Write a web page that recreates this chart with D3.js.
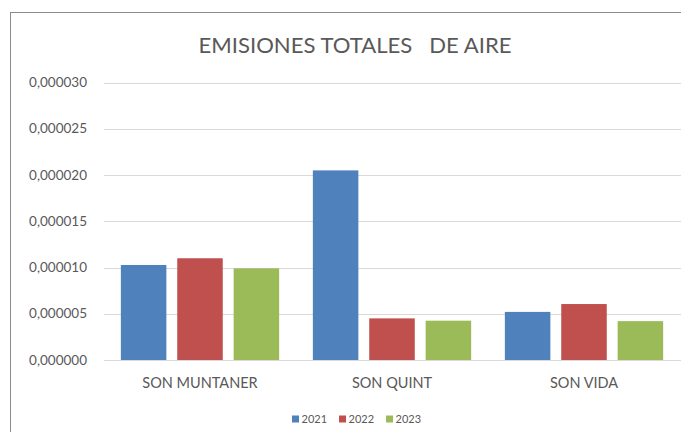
<!DOCTYPE html>
<html>
<head>
<meta charset="utf-8">
<script src="https://cdn.jsdelivr.net/npm/d3@7"></script>
<style>
  html, body { margin: 0; background: #fff; overflow: hidden; }
  svg { display: block; }
  text { font-family: Lato, "Open Sans", sans-serif; fill: #595959; }
</style>
</head>
<body>
<svg id="chart"></svg>
<script>
// data
var categories = ["SON MUNTANER", "SON QUINT", "SON VIDA"];
var years = ["2021", "2022", "2023"];
var values2021 = [0.00001027, 0.0000205, 0.0000052];
var values2022 = [0.0000110, 0.0000045, 0.00000605];
var values2023 = [0.00000991, 0.00000425, 0.0000042];
var yTicks = [0, 0.000005, 0.00001, 0.000015, 0.00002, 0.000025, 0.00003];
var colors = ["#4f81bd", "#c0504d", "#9bbb59"];

var width = 681, height = 432;
var svg = d3.select("#chart").attr("width", width).attr("height", height);

var series = [values2021, values2022, values2023];
var rows = categories.map(function(c, i) {
  return { cat: c, vals: years.map(function(y, j) { return { year: y, value: series[j][i] }; }) };
});

// chart border (runs off the right/bottom edge like the screenshot)
svg.append("rect")
  .attr("x", 10.5).attr("y", 12.5)
  .attr("width", 720).attr("height", 460)
  .attr("fill", "#fff").attr("stroke", "#8c8c8c").attr("stroke-width", 1);

var x = d3.scaleBand().domain(categories).range([104, 680]);
var x1 = d3.scaleBand().domain(years).range([0, 158.3]).paddingInner(0.193);
var y = d3.scaleLinear().domain([0, 0.00003]).range([360, 82.5]);

var fmt = d3.formatLocale({ decimal: ",", thousands: ".", grouping: [3], currency: ["", "€"] }).format(".6f");

// gridlines
svg.append("g").selectAll("line")
  .data(yTicks)
  .enter().append("line")
  .attr("x1", 104).attr("x2", 681)
  .attr("y1", function(d) { return Math.round(y(d)) + 0.5; })
  .attr("y2", function(d) { return Math.round(y(d)) + 0.5; })
  .attr("stroke", "#d9d9d9").attr("stroke-width", 1);

// y tick labels
svg.append("g").selectAll("text")
  .data(yTicks)
  .enter().append("text")
  .attr("x", 87)
  .attr("y", function(d) { return y(d); })
  .attr("dy", "0.35em")
  .attr("text-anchor", "end")
  .style("font-size", "13.5px")
  .text(function(d) { return fmt(d); });

// bars
var groups = svg.append("g").selectAll("g")
  .data(rows)
  .enter().append("g")
  .attr("transform", function(d) { return "translate(" + (x(d.cat) + (x.bandwidth() - 158.3) / 2) + ",0)"; });

groups.selectAll("rect")
  .data(function(d) { return d.vals; })
  .enter().append("rect")
  .attr("x", function(d) { return x1(d.year); })
  .attr("width", x1.bandwidth())
  .attr("y", function(d) { return y(d.value); })
  .attr("height", function(d) { return y(0) - y(d.value); })
  .attr("fill", function(d, i) { return colors[i]; });

// category labels
svg.append("g").selectAll("text")
  .data(categories)
  .enter().append("text")
  .attr("x", function(d) { return x(d) + x.bandwidth() / 2; })
  .attr("y", 388)
  .attr("text-anchor", "middle")
  .style("font-size", "14.5px")
  .text(function(d) { return d; });

// title
svg.append("text")
  .attr("x", 355).attr("y", 53)
  .attr("text-anchor", "middle")
  .style("font-size", "22px")
  .attr("textLength", 313)
  .attr("lengthAdjust", "spacingAndGlyphs")
  .style("white-space", "pre")
  .text("EMISIONES TOTALES   DE AIRE");

// legend
var legend = svg.append("g");
var lx = 292;
years.forEach(function(yr, i) {
  legend.append("rect")
    .attr("x", lx).attr("y", 415.5)
    .attr("width", 7).attr("height", 7)
    .attr("fill", colors[i]);
  var t = legend.append("text")
    .attr("x", lx + 9.5).attr("y", 423)
    .style("font-size", "11px")
    .text(yr);
  lx += 9.5 + t.node().getComputedTextLength() + 12;
});
</script>
</body>
</html>
